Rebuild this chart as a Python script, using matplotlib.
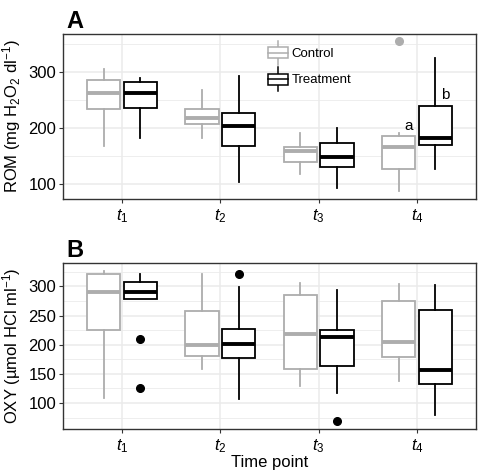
import matplotlib
matplotlib.use("Agg")
import matplotlib.pyplot as plt
from matplotlib.legend_handler import HandlerBase
from matplotlib.lines import Line2D
from matplotlib.patches import Rectangle
import numpy as np

plt.rcParams['font.family'] = ['Liberation Sans', 'DejaVu Sans']
plt.rcParams['mathtext.fontset'] = 'custom'
plt.rcParams['mathtext.rm'] = 'Liberation Sans'
plt.rcParams['mathtext.it'] = 'Liberation Sans:italic'
plt.rcParams['mathtext.bf'] = 'Liberation Sans:bold'

time_points = ["$t_1$", "$t_2$", "$t_3$", "$t_4$"]
groups = ["Control", "Treatment"]

# Panel A: ROM
rom_ctrl_whislo = [167, 181, 117, 86]
rom_ctrl_q1 = [233, 206, 138, 127]
rom_ctrl_med = [262, 217, 159, 165]
rom_ctrl_q3 = [286, 234, 166, 185]
rom_ctrl_whishi = [305, 267, 191, 190]
rom_ctrl_fliers = [[], [], [], [355]]

rom_trt_whislo = [182, 103, 93, 126]
rom_trt_q1 = [235, 168, 129, 170]
rom_trt_med = [262, 204, 148, 182]
rom_trt_q3 = [282, 226, 172, 239]
rom_trt_whishi = [289, 292, 200, 325]
rom_trt_fliers = [[], [], [], []]

# Panel B: OXY
oxy_ctrl_whislo = [109, 158, 129, 137]
oxy_ctrl_q1 = [225, 181, 158, 179]
oxy_ctrl_med = [291, 200, 218, 205]
oxy_ctrl_q3 = [321, 258, 286, 275]
oxy_ctrl_whishi = [326, 322, 306, 304]
oxy_ctrl_fliers = [[], [], [], []]

oxy_trt_whislo = [279, 107, 117, 80]
oxy_trt_q1 = [279, 178, 164, 132]
oxy_trt_med = [290, 201, 214, 156]
oxy_trt_q3 = [307, 227, 225, 260]
oxy_trt_whishi = [322, 299, 294, 302]
oxy_trt_fliers = [[209, 125], [322], [69], []]

sig_labels = ["a", "b"]
sig_values = [203, 259]

CTRL = "#ADADAD"
TRT = "#000000"
GRID = "#EBEBEB"

W, H = 484, 472
fig = plt.figure(figsize=(W / 100, H / 100), dpi=100)

def px_axes(l, t, r, b):
    return fig.add_axes([l / W, 1 - b / H, (r - l) / W, (b - t) / H])

axA = px_axes(63, 34, 476, 199)
axB = px_axes(63, 263, 476, 429)

pos = np.arange(1, 5)
off = 0.1875
bw = 0.34

def stats(wl, q1, med, q3, wh, fl):
    return [dict(whislo=a, q1=b, med=c, q3=d, whishi=e, fliers=f)
            for a, b, c, d, e, f in zip(wl, q1, med, q3, wh, fl)]

def draw(ax, st, positions, color, zorder=3):
    lw = 1.3
    ax.bxp(st, positions=positions, widths=bw, showcaps=False, patch_artist=True,
           boxprops=dict(facecolor="white", edgecolor=color, linewidth=lw),
           medianprops=dict(color=color, linewidth=2.8, solid_capstyle="butt"),
           whiskerprops=dict(color=color, linewidth=lw),
           flierprops=dict(marker="o", markerfacecolor=color, markeredgecolor=color,
                           markersize=5.5, linestyle="none"),
           manage_ticks=False, zorder=zorder)

def style(ax, ylim, major, minor, ylabel):
    ax.set_xlim(0.4, 4.6)
    ax.set_ylim(*ylim)
    ax.set_xticks(pos)
    ax.set_xticklabels(time_points, fontsize=12)
    ax.set_yticks(major)
    ax.set_yticks(minor, minor=True)
    ax.tick_params(axis="y", which="major", labelsize=12, length=3, width=0.8, color="#333333", pad=2)
    ax.tick_params(axis="x", which="major", length=3, width=0.8, color="#333333", pad=3)
    ax.tick_params(axis="y", which="minor", length=0)
    ax.grid(True, which="major", color=GRID, linewidth=1.1, zorder=0)
    ax.grid(True, which="minor", axis="y", color=GRID, linewidth=0.6, zorder=0)
    ax.set_axisbelow(True)
    for s in ax.spines.values():
        s.set_color("#333333")
        s.set_linewidth(1.0)
    ax.set_ylabel(ylabel, fontsize=12, labelpad=4)

# Panel A
draw(axA, stats(rom_ctrl_whislo, rom_ctrl_q1, rom_ctrl_med, rom_ctrl_q3, rom_ctrl_whishi, rom_ctrl_fliers), pos - off, CTRL)
draw(axA, stats(rom_trt_whislo, rom_trt_q1, rom_trt_med, rom_trt_q3, rom_trt_whishi, rom_trt_fliers), pos + off, TRT)
style(axA, (72.5, 368), [100, 200, 300], [150, 250, 350], "ROM (mg H$_2$O$_2$ dl$^{-1}$)")
axA.text(4 - off + 0.1, sig_values[0], sig_labels[0], fontsize=11, ha="center", va="center")
axA.text(4 + off + 0.1, sig_values[1], sig_labels[1], fontsize=11, ha="center", va="center")

# Panel B
draw(axB, stats(oxy_ctrl_whislo, oxy_ctrl_q1, oxy_ctrl_med, oxy_ctrl_q3, oxy_ctrl_whishi, oxy_ctrl_fliers), pos - off, CTRL)
draw(axB, stats(oxy_trt_whislo, oxy_trt_q1, oxy_trt_med, oxy_trt_q3, oxy_trt_whishi, oxy_trt_fliers), pos + off, TRT)
style(axB, (55.5, 340), [100, 150, 200, 250, 300], [75, 125, 175, 225, 275, 325], "OXY (µmol HCl ml$^{-1}$)")
axB.set_xlabel("Time point", fontsize=12, labelpad=0)

# Legend with mini box glyphs
class BoxHandler(HandlerBase):
    def __init__(self, color):
        super().__init__()
        self.color = color
    def create_artists(self, legend, orig_handle, xdescent, ydescent, width, height, fontsize, trans):
        x0, y0 = -xdescent, -ydescent
        cx = x0 + width / 2
        arts = [
            Line2D([cx, cx], [y0, y0 + height], color=self.color, lw=1.1, transform=trans),
            Rectangle((x0, y0 + height * 0.27), width, height * 0.46, facecolor="white",
                      edgecolor=self.color, lw=1.1, transform=trans),
            Line2D([x0, x0 + width], [y0 + height / 2] * 2, color=self.color, lw=1.1, transform=trans),
        ]
        return arts

hC = Line2D([], [], color=CTRL)
hT = Line2D([], [], color=TRT)
axA.legend([hC, hT], groups, handler_map={hC: BoxHandler(CTRL), hT: BoxHandler(TRT)},
           loc="upper left", bbox_to_anchor=(0.496, 0.958), frameon=False, fontsize=9.5,
           handlelength=1.52, handleheight=2.42, labelspacing=0.19, handletextpad=0.3,
           borderpad=0, borderaxespad=0)

fig.text(66 / W, 1 - 28 / H, "A", fontsize=17, fontweight="bold", ha="left", va="baseline")
fig.text(66 / W, 1 - 257 / H, "B", fontsize=17, fontweight="bold", ha="left", va="baseline")

fig.savefig("out.png", dpi=100)
